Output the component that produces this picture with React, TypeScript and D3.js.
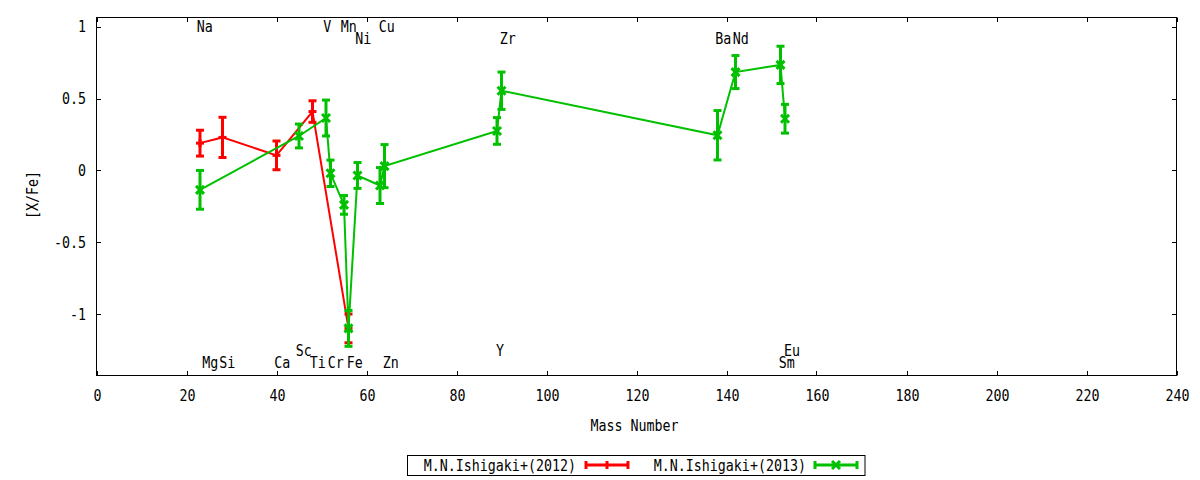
import React from "react";
import * as d3 from "d3";

// ---- data ----
// M.N.Ishigaki+(2012)
const massA = [23, 28, 40, 48, 56];
const valA = [0.19, 0.23, 0.105, 0.41, -1.1];
const errA = [0.09, 0.14, 0.1, 0.075, 0.1];

// M.N.Ishigaki+(2013)
const massB = [23, 45, 51, 52, 55, 56, 58, 63, 64, 89, 90, 138, 142, 152, 153];
const valB = [-0.135, 0.24, 0.365, -0.02, -0.24, -1.1, -0.035, -0.105, 0.03, 0.275, 0.555, 0.245, 0.685, 0.735, 0.36];
const errB = [0.135, 0.083, 0.125, 0.092, 0.065, 0.125, 0.09, 0.125, 0.15, 0.093, 0.13, 0.172, 0.115, 0.13, 0.1];

// element annotations (text, data x, data y)
const labelText = ["Na", "V", "Mn", "Cu", "Ni", "Zr", "Ba", "Nd", "Sc", "Y", "Eu", "Mg", "Si", "Ca", "Ti", "Cr", "Fe", "Zn", "Sm"];
const labelX = [22.3, 50.4, 54.3, 62.7, 57.5, 89.6, 137.5, 141.4, 44.3, 88.8, 152.8, 23.5, 27.3, 39.5, 47.4, 51.4, 55.6, 63.6, 151.6];
const labelY = [1.0, 1.0, 1.0, 1.0, 0.92, 0.92, 0.92, 0.92, -1.25, -1.25, -1.25, -1.34, -1.34, -1.34, -1.34, -1.34, -1.34, -1.34, -1.34];

const xTicks = [0, 20, 40, 60, 80, 100, 120, 140, 160, 180, 200, 220, 240];
const yTicks = [1, 0.5, 0, -0.5, -1];
const seriesNames = ["M.N.Ishigaki+(2012)", "M.N.Ishigaki+(2013)"];

const RED = "#ff0000";
const GREEN = "#00c000";
const FONT = "'DejaVu Sans Mono', monospace";

function T({ x, y, anchor = "start", rotate = 0, children }: { x: number; y: number; anchor?: string; rotate?: number; children: React.ReactNode }) {
  return (
    <text
      transform={`translate(${x},${y})${rotate ? ` rotate(${rotate})` : ""} scale(0.86,1)`}
      dy="0.36em"
      textAnchor={anchor}
      fontFamily={FONT}
      fontSize={15.5}
      fill="#000"
    >
      {children}
    </text>
  );
}

export default function App() {
  const L = 96.5, R = 1176.5, Tp = 17.5, B = 375.5;
  const x = d3.scaleLinear().domain([0, 240]).range([L, R]);
  const y = d3.scaleLinear().domain([-1.428, 1.065]).range([B, Tp]);
  const line = d3.line<[number, number]>().x((d) => x(d[0])).y((d) => y(d[1]));
  const tick = 4.5;
  const cap = 4;

  const series = (mass: number[], val: number[], err: number[], color: string, marker: "plus" | "x", key: string) => {
    const pts = mass.map((m, i) => [m, val[i]] as [number, number]);
    return (
      <g key={key}>
        <path d={line(pts) || ""} fill="none" stroke={color} strokeWidth={2} />
        {mass.map((m, i) => {
          const cx = x(m);
          const y1 = y(val[i] + err[i]);
          const y2 = y(val[i] - err[i]);
          const cy = y(val[i]);
          return (
            <g key={i} stroke={color} strokeWidth={3} fill="none">
              <line x1={cx} x2={cx} y1={y1} y2={y2} />
              <line x1={cx - cap} x2={cx + cap} y1={y1} y2={y1} />
              <line x1={cx - cap} x2={cx + cap} y1={y2} y2={y2} />
              {marker === "plus" ? (
                <>
                  <line x1={cx - 4} x2={cx + 4} y1={cy} y2={cy} />
                  <line x1={cx} x2={cx} y1={cy - 4} y2={cy + 4} />
                </>
              ) : (
                <>
                  <line x1={cx - 4} x2={cx + 4} y1={cy - 4} y2={cy + 4} />
                  <line x1={cx - 4} x2={cx + 4} y1={cy + 4} y2={cy - 4} />
                </>
              )}
            </g>
          );
        })}
      </g>
    );
  };

  const legendSample = (x0: number, x1: number, yy: number, color: string, marker: "plus" | "x") => {
    const cx = (x0 + x1) / 2;
    return (
      <g stroke={color} strokeWidth={3} fill="none">
        <line x1={x0} x2={x1} y1={yy} y2={yy} />
        <line x1={x0} x2={x0} y1={yy - 4} y2={yy + 4} />
        <line x1={x1} x2={x1} y1={yy - 4} y2={yy + 4} />
        {marker === "plus" ? (
          <line x1={cx} x2={cx} y1={yy - 4} y2={yy + 4} />
        ) : (
          <>
            <line x1={cx - 4} x2={cx + 4} y1={yy - 4} y2={yy + 4} />
            <line x1={cx - 4} x2={cx + 4} y1={yy + 4} y2={yy - 4} />
          </>
        )}
      </g>
    );
  };

  return (
    <svg
      width={1200}
      height={480}
      style={{ position: "absolute", left: 0, top: 0, background: "#fff" }}
    >
      <rect x={0} y={0} width={1200} height={480} fill="#fff" />
      {/* ticks */}
      <g stroke="#000" strokeWidth={1}>
        {xTicks.map((t) => (
          <g key={"xt" + t}>
            <line x1={Math.round(x(t)) + 0.5} x2={Math.round(x(t)) + 0.5} y1={B} y2={B - tick} />
            <line x1={Math.round(x(t)) + 0.5} x2={Math.round(x(t)) + 0.5} y1={Tp} y2={Tp + tick} />
          </g>
        ))}
        {yTicks.map((t) => (
          <g key={"yt" + t}>
            <line x1={L} x2={L + tick} y1={Math.round(y(t)) + 0.5} y2={Math.round(y(t)) + 0.5} />
            <line x1={R} x2={R - tick} y1={Math.round(y(t)) + 0.5} y2={Math.round(y(t)) + 0.5} />
          </g>
        ))}
      </g>
      {/* tick labels */}
      {xTicks.map((t) => (
        <T key={"xl" + t} x={x(t) + 1} y={395} anchor="middle">
          {t}
        </T>
      ))}
      {yTicks.map((t) => (
        <T key={"yl" + t} x={86} y={y(t)} anchor="end">
          {t}
        </T>
      ))}
      {/* element labels */}
      {labelText.map((s, i) => (
        <T key={"el" + i} x={x(labelX[i])} y={y(labelY[i])}>
          {s}
        </T>
      ))}
      {/* data */}
      {series(massA, valA, errA, RED, "plus", "a")}
      {series(massB, valB, errB, GREEN, "x", "b")}
      {/* frame */}
      <rect x={L} y={Tp} width={R - L} height={B - Tp} fill="none" stroke="#000" strokeWidth={1} />
      {/* axis titles */}
      <T x={634.5} y={425} anchor="middle">
        Mass Number
      </T>
      <T x={32} y={195} anchor="middle" rotate={-90}>
        [X/Fe]
      </T>
      {/* legend */}
      <rect x={407.5} y={455.5} width={457.5} height={20} fill="none" stroke="#000" strokeWidth={1} />
      <T x={576} y={465} anchor="end">
        {seriesNames[0]}
      </T>
      {legendSample(586, 628, 465, RED, "plus")}
      <T x={806} y={465} anchor="end">
        {seriesNames[1]}
      </T>
      {legendSample(815, 857, 465, GREEN, "x")}
    </svg>
  );
}
